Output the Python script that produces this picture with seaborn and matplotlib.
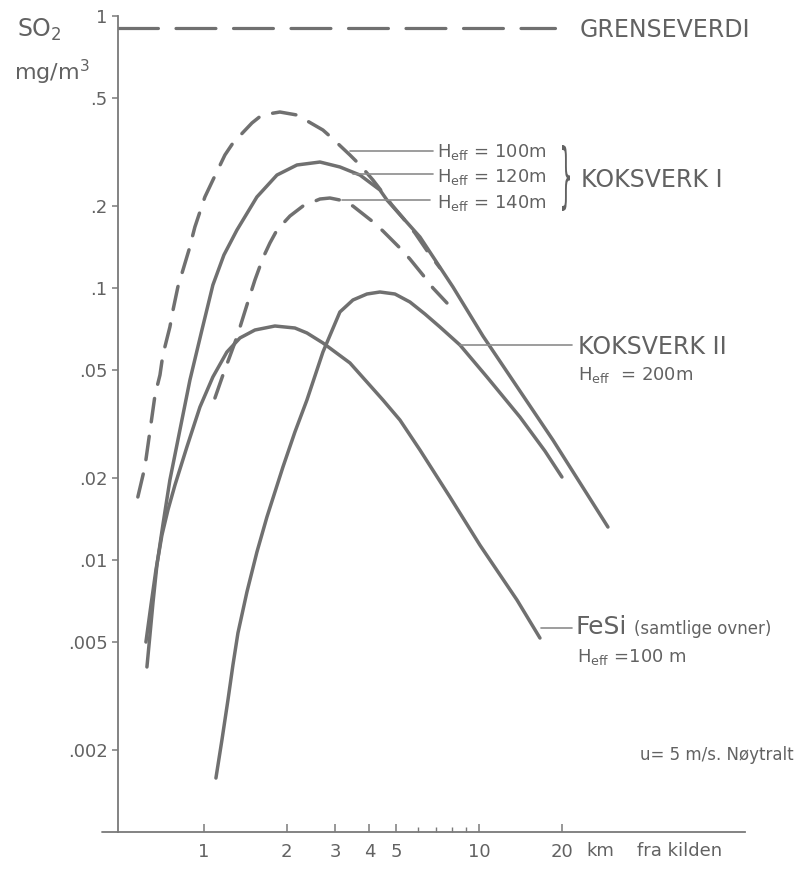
import numpy as np
import pandas as pd
import matplotlib
matplotlib.use("Agg")
import matplotlib.pyplot as plt
import seaborn as sns
from matplotlib.ticker import FixedLocator, FixedFormatter, NullLocator, NullFormatter
from matplotlib.textpath import TextPath
from matplotlib.patches import PathPatch
from matplotlib.font_manager import FontProperties
from matplotlib.transforms import Affine2D, IdentityTransform

# values (km from source, SO2 in mg/m3)
koks1_100_x = [0.575, 0.610, 0.626, 0.647, 0.664, 0.692, 0.709, 0.752, 0.772, 0.804, 0.839,
               0.882, 0.927, 1.008, 1.078, 1.192, 1.275, 1.495, 1.625, 1.889, 2.179, 2.708,
               2.920, 3.396, 3.693, 4.118, 4.477, 4.827, 5.292, 5.853, 6.525, 7.215]
koks1_100_y = [0.01705, 0.02198, 0.02647, 0.03355, 0.04043, 0.04787, 0.05672, 0.07189, 0.08299,
               0.1009, 0.1165, 0.1379, 0.1676, 0.2161, 0.2494, 0.3083, 0.3412, 0.4043, 0.4325,
               0.4436, 0.4325, 0.3809, 0.356, 0.3083, 0.2833, 0.2494, 0.2235, 0.2019, 0.1809,
               0.1593, 0.1356, 0.1185]

koks1_120_x = [0.6205, 0.6364, 0.6526, 0.6747, 0.709, 0.752, 0.8178, 0.8894, 0.9834, 1.078,
               1.182, 1.318, 1.558, 1.843, 2.179, 2.642, 3.122, 3.693, 4.365, 4.630, 6.103,
               8.044, 10.34, 18.58, 29.45]
koks1_120_y = [0.004043, 0.005301, 0.006948, 0.00959, 0.01345, 0.01968, 0.03005, 0.04589,
               0.07008, 0.1026, 0.1322, 0.1633, 0.2161, 0.2602, 0.2833, 0.2905, 0.2786, 0.2602,
               0.2293, 0.2106, 0.154, 0.1009, 0.06661, 0.02761, 0.01322]

koks1_140_x = [1.0965, 1.1724, 1.2434, 1.3183, 1.4333, 1.5325, 1.6387, 1.7378, 1.8431, 2.0547,
               2.2909, 2.6424, 2.8717, 3.1222, 3.4822, 4.0828, 4.4774, 5.1607, 5.6118, 6.2572,
               6.8039, 7.6503]
koks1_140_y = [0.03941, 0.04787, 0.05623, 0.06606, 0.0866, 0.1070, 0.1289, 0.1464, 0.1633,
               0.1839, 0.2001, 0.2124, 0.2142, 0.2106, 0.2001, 0.1763, 0.1620, 0.1403, 0.1278,
               0.1116, 0.1, 0.0881]

koks2_x = [1.1057, 1.1627, 1.2228, 1.2749, 1.3295, 1.4333, 1.5585, 1.6947, 1.938, 2.1421,
           2.3689, 2.7085, 3.1222, 3.4822, 3.9149, 4.3652, 4.9498, 5.6118, 6.3627, 7.2144,
           8.531, 10.693, 14.097, 17.378, 20.036]
koks2_y = [0.001579, 0.002179, 0.003057, 0.004111, 0.00539, 0.007627, 0.0107, 0.01439, 0.02198,
           0.02955, 0.03875, 0.05816, 0.08163, 0.09035, 0.09504, 0.09667, 0.09504, 0.08882,
           0.08025, 0.07189, 0.06172, 0.0471, 0.03355, 0.02516, 0.02019]

fesi_x = [0.6153, 0.6418, 0.669, 0.7036, 0.7398, 0.7846, 0.867, 0.9671, 1.078, 1.212, 1.352,
          1.533, 1.812, 2.142, 2.369, 2.708, 3.396, 4.477, 5.161, 6.103, 7.844, 10.08, 13.75,
          16.67]
fesi_y = [0.004994, 0.00683, 0.00919, 0.01235, 0.01527, 0.01886, 0.02603, 0.03651, 0.0471,
          0.05816, 0.06551, 0.07008, 0.07249, 0.07127, 0.06834, 0.06281, 0.05302, 0.03875,
          0.03271, 0.02538, 0.01705, 0.01135, 0.00713, 0.005166]

grenseverdi = 0.9

y_ticks = [1, 0.5, 0.2, 0.1, 0.05, 0.02, 0.01, 0.005, 0.002]
y_labels = ["1", ".5", ".2", ".1", ".05", ".02", ".01", ".005", ".002"]
x_ticks = [1, 2, 3, 4, 5, 10, 20]
x_labels = ["1", "2", "3", "4", "5", "10", "20"]
x_minor = [6, 7, 8, 9]

sns.set_style("ticks")
plt.rcParams["font.family"] = ["DejaVu Sans"]
plt.rcParams["mathtext.default"] = "regular"

W, H = 801, 874
GRAY = "#707070"
TXT = "#626262"
AXC = "#7a7a7a"
fig = plt.figure(figsize=(W / 100, H / 100), dpi=100)
ax = fig.add_axes([118 / W, 1 - 832 / H, (745 - 118) / W, (832 - 16) / H])
ax.set_xscale("log")
ax.set_yscale("log")

curves = [
    (koks1_100_x, koks1_100_y, (6.8, 4.2)),
    (koks1_120_x, koks1_120_y, None),
    (koks1_140_x, koks1_140_y, (6.8, 4.2)),
    (koks2_x, koks2_y, None),
    (fesi_x, fesi_y, None),
]
for xs, ys, dash in curves:
    df = pd.DataFrame({"x": xs, "y": ys})
    line = sns.lineplot(data=df, x="x", y="y", ax=ax, color=GRAY, lw=2.5, sort=False,
                        estimator=None).lines[-1]
    line.set_solid_capstyle("round")
    line.set_solid_joinstyle("round")
    if dash:
        line.set_dashes(dash)
        line.set_dash_capstyle("round")

ax.axhline(grenseverdi, xmin=0, xmax=0.697, color=GRAY, lw=2.3, dashes=(12.5, 5.5),
           dash_capstyle="round")

ax.set_xlim(0.487, 92.8)
ax.set_ylim(0.001, 1)
ax.yaxis.set_major_locator(FixedLocator(y_ticks))
ax.yaxis.set_major_formatter(FixedFormatter(y_labels))
ax.yaxis.set_minor_locator(NullLocator())
ax.xaxis.set_major_locator(FixedLocator(x_ticks))
ax.xaxis.set_major_formatter(FixedFormatter(x_labels))
ax.xaxis.set_minor_locator(FixedLocator(x_minor))
ax.xaxis.set_minor_formatter(NullFormatter())
ax.set_xlabel("")
ax.set_ylabel("")
sns.despine(ax=ax)
for s in ["left", "bottom"]:
    ax.spines[s].set_color(AXC)
    ax.spines[s].set_linewidth(1.3)
# the scanned x axis starts a little left of the y axis
ax.axhline(0.001, xmin=-0.026, xmax=0, color=AXC, lw=1.3, clip_on=False)
ax.tick_params(axis="y", direction="out", length=4.5, width=1.1, color=AXC,
               labelsize=13, labelcolor=TXT, pad=3)
ax.tick_params(axis="x", which="major", direction="in", length=6, width=1.1, color=AXC,
               labelsize=13, labelcolor=TXT, pad=8)
ax.tick_params(axis="x", which="minor", direction="in", length=3.5, width=1.0, color=AXC)


def put(px, py, s, size, **kw):
    fig.text(px / W, 1 - py / H, s, fontsize=size, color=TXT, ha=kw.pop("ha", "left"),
             va=kw.pop("va", "center"), **kw)


def pointer(x0, x1, py):
    ax.annotate("", xy=(x0, H - py), xycoords="figure pixels", xytext=(x1, H - py),
                textcoords="figure pixels",
                arrowprops=dict(arrowstyle="-", color="#8c8c8c", lw=1.2, shrinkA=0, shrinkB=0))


put(17, 30, "SO$_2$", 17)
put(14, 72, "mg/m$^3$", 16)
put(580, 30, "GRENSEVERDI", 17)

put(437, 152, "H$_{eff}$ = 100m", 13)
put(437, 177, "H$_{eff}$ = 120m", 13)
put(437, 203, "H$_{eff}$ = 140m", 13)
pointer(350, 433, 151)
pointer(353, 433, 174)
pointer(342, 430, 200)

# tall, narrow curly brace grouping the three Koksverk I curves
brace = TextPath((0, 0), "}", size=100, prop=FontProperties(family="DejaVu Sans"))
ext = brace.get_extents()
btr = (Affine2D().translate(-ext.x0, -ext.y0)
       .scale(8 / ext.width, 66 / ext.height)
       .translate(562, H - 211))
fig.add_artist(PathPatch(brace, transform=btr + IdentityTransform(), facecolor=TXT,
                         edgecolor="none"))
put(581, 180, "KOKSVERK I", 17)

put(578, 347, "KOKSVERK II", 17)
put(578, 375, "H$_{eff}$  = 200m", 13)
pointer(460, 572, 345)

put(576, 627, "FeSi", 18)
put(634, 629, "(samtlige ovner)", 12)
put(577, 657, "H$_{eff}$ =100 m", 13)
pointer(541, 572, 628)

put(640, 755, "u= 5 m/s. Nøytralt", 12)
put(600, 851, "km", 13, ha="center")
put(680, 851, "fra kilden", 13, ha="center")

fig.savefig("out.png", dpi=100)
